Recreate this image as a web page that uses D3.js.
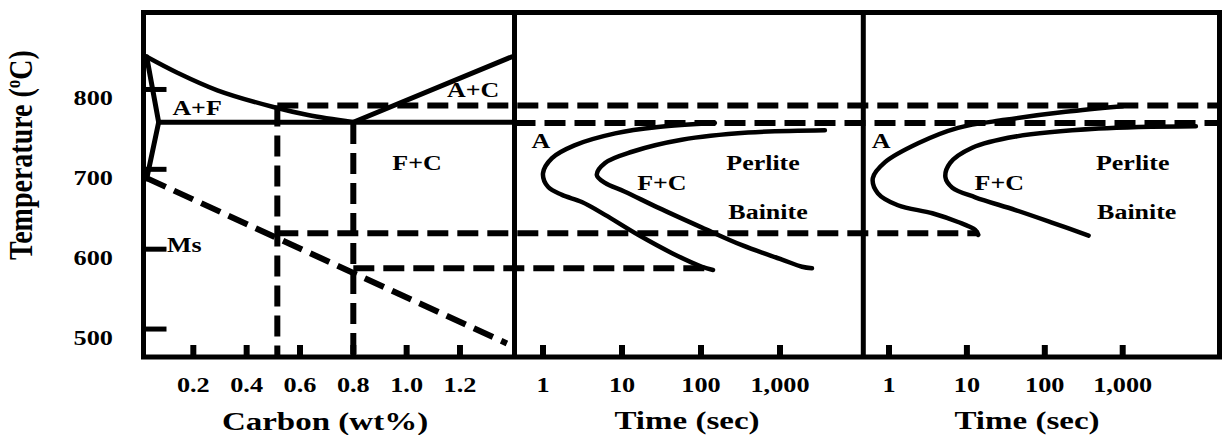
<!DOCTYPE html>
<html>
<head>
<meta charset="utf-8">
<script src="https://cdn.jsdelivr.net/npm/d3@7"></script>
<style>
body { margin: 0; background: #fff; }
svg text { font-family: "Liberation Serif", "Times New Roman", serif; font-weight: bold; fill: #000; }
</style>
</head>
<body>
<svg id="chart" width="1222" height="435"></svg>
<script>
// ---- values ----
var carbonTicks = [0.2, 0.4, 0.6, 0.8, 1.0, 1.2];
var tempTicks = [500, 600, 700, 800];
var timeTicks = [1, 10, 100, 1000];

// Fe-C diagram : [carbon wt%, temperature C]
var a3Line = [[0.025, 841], [0.14, 821], [0.29, 799], [0.5, 778], [0.63, 768], [0.8, 759]];
var acmLine = [[0.8, 759], [1.395, 841]];
var alphaLine = [[0.025, 841], [0.07, 759], [0.025, 688]];
var eutectoidLine = [[0.07, 759], [1.4, 759]];
var msLine = [[0.025, 689], [1.376, 482]];
// vertical guides : [carbon, temperature where they start]
var carbonGuides = [[0.515, 780], [0.8, 758]];

// TTT curves : [time sec, temperature C]
var p2Start = [[150, 758], [28.6, 753], [8.2, 745], [2.5, 730], [1.3, 714], [1.0, 695], [1.16, 678], [1.74, 668],
	[3.1, 659], [6.1, 643], [16, 618], [43, 595], [103, 578], [142, 574]];
var p2Finish = [[3700, 749], [394, 746], [57, 737], [13.4, 722], [6.1, 708], [4.8, 693], [6.1, 683], [10.9, 672],
	[28.6, 652], [103, 627], [330, 605], [1060, 587], [1900, 578], [2540, 576]];
var p3Start = [[1000, 779], [185, 772], [31, 762], [7.7, 752], [2.4, 733], [0.89, 709], [0.62, 689], [0.72, 670],
	[1.3, 655], [3.6, 645], [7.7, 634], [12.8, 624], [14, 618]];
var p3Finish = [[8700, 754], [490, 751], [42, 741], [11.7, 727], [6.1, 708], [5.3, 690], [6.5, 677], [12.8, 665],
	[42, 649], [126, 633], [365, 617]];

// isotherms (C) and where the quench lines stop (sec)
var isoUpper = 780, isoEutectoid = 758, isoQuench1 = 620, isoQuench2 = 576;
var quench1End = 14, quench2End = 142;

var p1Labels = [{t: "A+F", c: 0.214, T: 768}, {t: "A+C", c: 1.249, T: 791}, {t: "F+C", c: 1.039, T: 699}, {t: "Ms", c: 0.101, T: 596, a: "start"}];
var p2Labels = [{t: "A", s: 0.94, T: 727}, {t: "F+C", s: 32, T: 674}, {t: "Perlite", s: 610, T: 699}, {t: "Bainite", s: 705, T: 638}];
var p3Labels = [{t: "A", s: 0.79, T: 727}, {t: "F+C", s: 26, T: 674}, {t: "Perlite", s: 1345, T: 699}, {t: "Bainite", s: 1514, T: 638}];

// ---- layout ----
var frameTop = 12.5, frameBottom = 357;
var panelEdges = [143.5, 514.5, 863.3, 1219.5];
var stretch = 1.25; // the source picture is widened horizontally

var svg = d3.select("#chart");

var yT = d3.scaleLinear().domain([465, 897]).range([357, 12]);
var xC = d3.scaleLinear().domain([0, 1.4]).range([140, 513.3]);
var xt2 = d3.scaleLog().domain([1, 1000]).range([543, 780]);
var xt3 = d3.scaleLog().domain([1, 1000]).range([889, 1122.7]);

function text(str, px, py, size, anchor, sx)
{
	return svg.append("text")
		.attr("transform", "translate(" + px + "," + py + ") scale(" + sx + ",1)")
		.attr("text-anchor", anchor)
		.style("font-size", size + "px")
		.text(str);
}

function solid(data, xs, w, curve)
{
	var line = d3.line().x(function(d) { return xs(d[0]); }).y(function(d) { return yT(d[1]); });
	if (curve) line.curve(d3.curveCatmullRom.alpha(0.5));
	svg.append("path").datum(data)
		.attr("d", line)
		.attr("fill", "none")
		.attr("stroke", "#000")
		.attr("stroke-width", w)
		.attr("stroke-linejoin", "round")
		.attr("stroke-linecap", "round");
}

function dashed(x1, y1, x2, y2)
{
	svg.append("line")
		.attr("x1", x1).attr("y1", y1).attr("x2", x2).attr("y2", y2)
		.attr("stroke", "#000")
		.attr("stroke-width", 6)
		.attr("stroke-dasharray", "21,9");
}

// dashed guides
carbonGuides.forEach(function(g) { dashed(xC(g[0]), yT(g[1]), xC(g[0]), frameBottom); });
dashed(xC(carbonGuides[0][0]), yT(isoUpper), panelEdges[3], yT(isoUpper));
dashed(panelEdges[1], yT(isoEutectoid), panelEdges[3], yT(isoEutectoid));
dashed(xC(carbonGuides[0][0]), yT(isoQuench1), xt3(quench1End), yT(isoQuench1));
dashed(xC(carbonGuides[1][0]), yT(isoQuench2), xt2(quench2End), yT(isoQuench2));
dashed(xC(msLine[0][0]), yT(msLine[0][1]), xC(msLine[1][0]), yT(msLine[1][1]));

// phase diagram lines
solid(a3Line, xC, 4.5, true);
solid(acmLine, xC, 5, false);
solid(alphaLine, xC, 5, false);
solid(eutectoidLine, xC, 5, false);

// TTT curves
solid(p2Start, xt2, 4.5, true);
solid(p2Finish, xt2, 4.5, true);
solid(p3Start, xt3, 4.5, true);
solid(p3Finish, xt3, 4.5, true);

// frame
svg.append("rect")
	.attr("x", panelEdges[0]).attr("y", frameTop)
	.attr("width", panelEdges[3] - panelEdges[0]).attr("height", frameBottom - frameTop)
	.attr("fill", "none").attr("stroke", "#000").attr("stroke-width", 5);
[panelEdges[1], panelEdges[2]].forEach(function(px) {
	svg.append("line").attr("x1", px).attr("x2", px).attr("y1", frameTop).attr("y2", frameBottom)
		.attr("stroke", "#000").attr("stroke-width", 5);
});

// temperature ticks (inside panel 1)
svg.selectAll(".ytick").data(tempTicks).enter().append("line")
	.attr("x1", panelEdges[0]).attr("x2", panelEdges[0] + 23)
	.attr("y1", function(d) { return yT(d); }).attr("y2", function(d) { return yT(d); })
	.attr("stroke", "#000").attr("stroke-width", 5);
tempTicks.forEach(function(d) { text(d, 113, yT(d) + 16, 21, "end", stretch); });

// carbon + time ticks
function bottomTicks(values, xs, fmt)
{
	values.forEach(function(v) {
		svg.append("line").attr("x1", xs(v)).attr("x2", xs(v))
			.attr("y1", frameBottom).attr("y2", frameBottom - 12)
			.attr("stroke", "#000").attr("stroke-width", 6);
		text(fmt(v), xs(v), 392, 21, "middle", stretch);
	});
}
bottomTicks(carbonTicks, xC, d3.format(".1f"));
bottomTicks(timeTicks, xt2, d3.format(","));
bottomTicks(timeTicks, xt3, d3.format(","));

// axis titles
text("Carbon (wt%)", 325, 430, 26, "middle", 1.27);
text("Time (sec)", 687, 429, 26, "middle", 1.27);
text("Time (sec)", 1027, 429, 26, "middle", 1.27);

var yTitle = svg.append("text")
	.attr("transform", "translate(32,155) scale(1.2,1) rotate(-90)")
	.attr("text-anchor", "middle")
	.style("font-size", "28px");
yTitle.append("tspan").text("Temperature (");
yTitle.append("tspan").attr("dy", -10).style("font-size", "17px").text("o");
yTitle.append("tspan").attr("dy", 10).text("C)");

// region labels
p1Labels.forEach(function(l) { text(l.t, xC(l.c), yT(l.T), 22, l.a || "middle", 1.18); });
p2Labels.forEach(function(l) { text(l.t, xt2(l.s), yT(l.T), 22, "middle", 1.18); });
p3Labels.forEach(function(l) { text(l.t, xt3(l.s), yT(l.T), 22, "middle", 1.18); });
</script>
</body>
</html>
